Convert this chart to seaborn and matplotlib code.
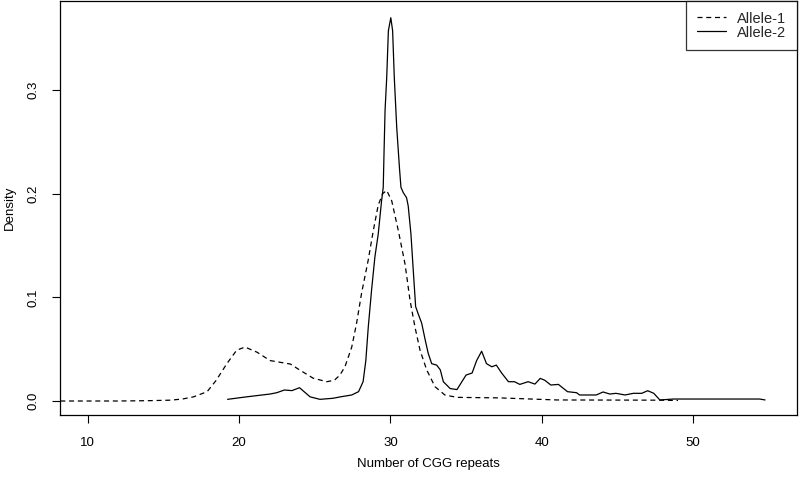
import numpy as np
import pandas as pd
import matplotlib
matplotlib.use("Agg")
import matplotlib.pyplot as plt
import seaborn as sns

# Allele-1 (dashed) density curve
a1_x = [8.2, 10.0, 12.0, 14.0, 15.5, 16.3, 17.0, 17.9, 18.5, 19.2, 19.85, 20.4, 21.2,
        22.05, 23.4, 24.0, 24.9, 25.8, 26.3, 26.67, 27.0, 27.45, 27.77, 28.1, 28.54, 28.87,
        29.2, 29.5, 29.76, 30.09, 30.53, 30.97, 31.3, 31.63, 31.96, 32.4, 32.95, 33.6,
        34.4, 37.2, 41.0, 47.8, 49.0]
a1_y = [0.0, 0.0, 0.0, 0.0003, 0.0008, 0.002, 0.004, 0.009, 0.020, 0.036, 0.049, 0.052, 0.047,
        0.039, 0.0356, 0.030, 0.022, 0.0186, 0.020, 0.025, 0.033, 0.052, 0.075, 0.104, 0.136, 0.164,
        0.189, 0.200, 0.203, 0.193, 0.164, 0.132, 0.097, 0.071, 0.049, 0.030, 0.0138, 0.0058,
        0.0035, 0.003, 0.001, 0.0008, 0.0005]

# Allele-2 (solid) density curve
a2_x = [19.25, 20.5, 22.05, 22.5, 23.0, 23.5, 24.0, 24.7, 25.35, 26.2, 26.7, 27.45, 27.9,
        28.2, 28.38, 28.54, 28.76, 28.98, 29.2, 29.42, 29.53, 29.58, 29.65, 29.76, 29.87,
        30.03, 30.15, 30.26, 30.42, 30.6, 30.7, 30.85, 31.07, 31.18, 31.36, 31.5, 31.67,
        31.84, 32.07, 32.3, 32.5, 32.73, 33.06, 33.3, 33.5, 33.95, 34.4, 35.0, 35.4,
        35.7, 36.03, 36.35, 36.7, 37.0, 37.35, 37.8, 38.2, 38.55, 39.1, 39.55, 39.9, 40.2,
        40.6, 41.1, 41.7, 42.3, 42.5, 43.6, 44.05, 44.5, 44.9, 45.5, 46.05, 46.6, 47.0,
        47.4, 47.8, 48.7, 54.4, 54.75]
a2_y = [0.0016, 0.004, 0.0067, 0.008, 0.0106, 0.010, 0.0128, 0.004, 0.0016, 0.0026, 0.004, 0.0058, 0.009,
        0.0186, 0.039, 0.071, 0.107, 0.139, 0.161, 0.193, 0.206, 0.238, 0.280, 0.312, 0.357,
        0.3695, 0.357, 0.312, 0.264, 0.225, 0.206, 0.201, 0.196, 0.188, 0.161, 0.129, 0.091,
        0.084, 0.075, 0.059, 0.046, 0.036, 0.0346, 0.030, 0.0186, 0.012, 0.011, 0.025, 0.027,
        0.039, 0.048, 0.036, 0.033, 0.0346, 0.027, 0.0186, 0.0186, 0.016, 0.0186, 0.0163, 0.0218, 0.020,
        0.0154, 0.016, 0.009, 0.008, 0.0058, 0.0058, 0.0087, 0.0067, 0.0074, 0.0058, 0.0074, 0.0074, 0.0099,
        0.0074, 0.001, 0.0019, 0.0019, 0.001]

x_ticks = [10, 20, 30, 40, 50]
y_ticks = [0.0, 0.1, 0.2, 0.3]
series_names = ["Allele-1", "Allele-2"]

df = pd.concat([
    pd.DataFrame({"x": a1_x, "y": a1_y, "allele": series_names[0]}),
    pd.DataFrame({"x": a2_x, "y": a2_y, "allele": series_names[1]}),
], ignore_index=True)

sns.set_theme(style="white")
plt.rcParams["font.family"] = ["Liberation Sans", "DejaVu Sans"]

fig = plt.figure(figsize=(7.99, 4.78), dpi=100)
ax = fig.add_axes([0.0751, 0.1318, 0.9224, 0.866])

sns.lineplot(data=df, x="x", y="y", style="allele", color="black",
             dashes={"Allele-1": (4, 3), "Allele-2": ""}, estimator=None, sort=False,
             linewidth=0.9, ax=ax)

ax.set_xlim(8.18, 56.86)
ax.set_ylim(-0.0135, 0.3856)
ax.set_xticks(x_ticks)
ax.set_xticklabels([str(t) for t in x_ticks])
ax.set_yticks(y_ticks)
ax.set_yticklabels([f"{t:.1f}" for t in y_ticks], rotation=90, va="center")
ax.set_xlabel("Number of CGG repeats", fontsize=9.5, color="black", labelpad=6)
ax.set_ylabel("Density", fontsize=9.5, color="black", labelpad=8)
ax.tick_params(axis="both", direction="out", length=6, width=0.8, color="black",
               labelsize=9.5, labelcolor="black", left=True, bottom=True)
ax.tick_params(axis="x", pad=10)
ax.tick_params(axis="y", pad=9)
for s in ax.spines.values():
    s.set_visible(True)
    s.set_color("black")
    s.set_linewidth(0.9)

handles, labels = ax.get_legend_handles_labels()
leg = ax.legend(handles, labels, loc="upper right", borderaxespad=0, fancybox=False,
                frameon=True, edgecolor="black", fontsize=10.5, handlelength=2.05,
                handletextpad=0.75, borderpad=0.72, labelspacing=0.0)
leg.get_frame().set_linewidth(0.9)

fig.savefig("out.png", dpi=100)
